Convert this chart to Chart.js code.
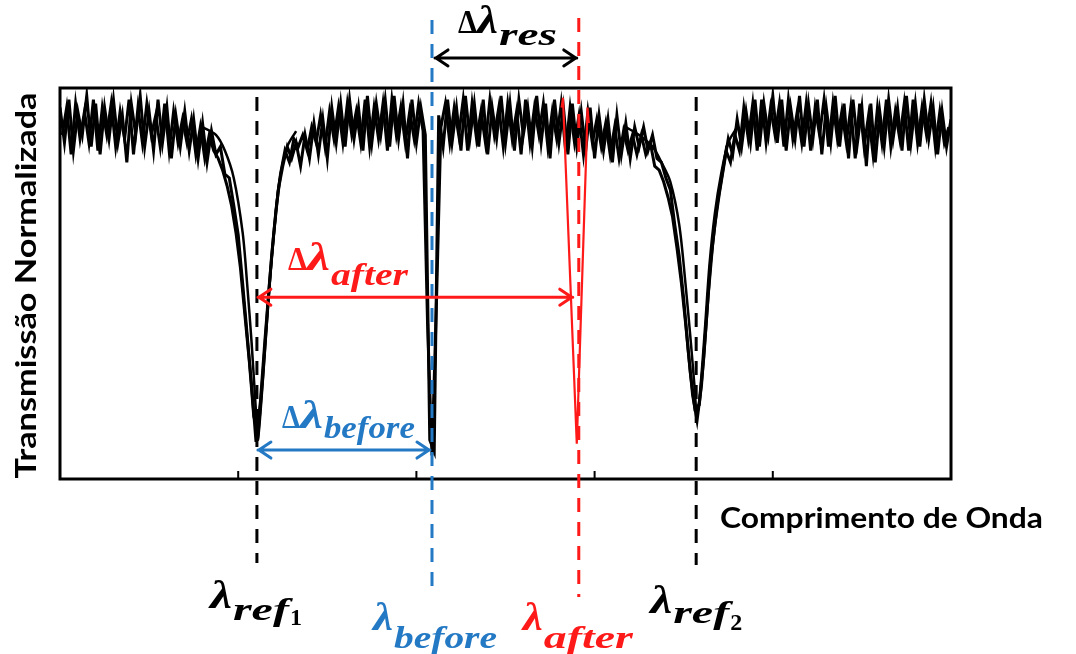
<!DOCTYPE html>
<html>
<head>
<meta charset="utf-8">
<script src="https://cdn.jsdelivr.net/npm/chart.js@4.4.0/dist/chart.umd.min.js"></script>
<style>
  html, body { margin: 0; padding: 0; background: #fff; }
  #grafico { display: block; }
</style>
</head>
<body>
<canvas id="grafico" width="1076" height="654"></canvas>
<script>
// comprimento de onda em unidades arbitrarias 0..100, uma amostra a cada 0.5
var passo = 0.5;

// transmissao medida (normalizada) - varredura 1 (x = 0, 0.5, 1 ...)
var medida = [
  0.95, 0.86, 0.97, 0.84, 0.94, 0.88, 0.98, 0.85, 0.96, 0.83, 0.95, 0.87, 0.97, 0.86,
  0.93, 0.81, 0.96, 0.88, 0.98, 0.85, 0.94, 0.84, 0.97, 0.86, 0.95, 0.82, 0.93, 0.85,
  0.94, 0.84, 0.92, 0.82, 0.91, 0.81,
  0.89, 0.83, 0.85, 0.78, 0.77, 0.70, 0.625, 0.50, 0.37, 0.24, 0.095, 0.20, 0.355, 0.50,
  0.63, 0.74, 0.80, 0.85, 0.82,
  0.86, 0.80, 0.88, 0.82, 0.91, 0.83, 0.92, 0.82, 0.95, 0.86, 0.96, 0.85, 0.97, 0.87,
  0.95, 0.84, 0.98, 0.86, 0.96, 0.88, 0.97, 0.85, 0.98, 0.87, 0.96, 0.82, 0.97, 0.86, 0.95,
  0.88, 0.10, 0.07,
  0.93, 0.85, 0.97, 0.86, 0.95, 0.84, 0.98, 0.87, 0.96, 0.85, 0.97, 0.83, 0.95, 0.87,
  0.98, 0.86, 0.96, 0.84, 0.97, 0.88, 0.95, 0.85, 0.98, 0.86, 0.96, 0.82, 0.97, 0.86,
  0.95, 0.83, 0.96, 0.85, 0.94, 0.84, 0.95, 0.82, 0.93, 0.84, 0.92, 0.81, 0.93, 0.83,
  0.91, 0.82, 0.90,
  0.85, 0.90, 0.84, 0.88, 0.82, 0.81, 0.77, 0.74, 0.65, 0.57, 0.46, 0.33, 0.215, 0.15,
  0.24, 0.39, 0.55, 0.65, 0.73, 0.80, 0.87, 0.83, 0.92,
  0.85, 0.94, 0.86, 0.97, 0.85, 0.96, 0.88, 0.98, 0.86, 0.97, 0.84, 0.95, 0.87, 0.98,
  0.85, 0.96, 0.87, 0.97, 0.83, 0.95, 0.86, 0.98, 0.85, 0.96, 0.82, 0.97, 0.86, 0.95,
  0.80, 0.96, 0.81, 0.94, 0.85, 0.97, 0.87, 0.95, 0.84, 0.98, 0.86, 0.96, 0.85, 0.97,
  0.87, 0.95, 0.83, 0.94, 0.85, 0.92
];

// varredura 2 (x = 0.25, 0.75, 1.25 ...)
var medida2 = [
  0.88, 0.95, 0.83, 0.96, 0.87, 0.94, 0.86, 0.97, 0.84, 0.95, 0.88, 0.96, 0.85, 0.94,
  0.87, 0.97, 0.83, 0.95, 0.86, 0.96, 0.88, 0.93, 0.85, 0.96, 0.84, 0.94, 0.86, 0.92,
  0.86, 0.92, 0.83, 0.90, 0.82, 0.88,
  0.84, 0.82, 0.79, 0.75, 0.70, 0.63, 0.54, 0.42, 0.30, 0.16, 0.12, 0.26, 0.42, 0.57,
  0.69, 0.78, 0.84, 0.81, 0.87,
  0.85, 0.88, 0.84, 0.90, 0.86, 0.93, 0.85, 0.94, 0.87, 0.95, 0.86, 0.96, 0.88, 0.94,
  0.86, 0.97, 0.85, 0.95, 0.87, 0.96, 0.84, 0.97, 0.88, 0.95, 0.86, 0.94, 0.87, 0.96, 0.89,
  0.40, 0.06, 0.45,
  0.90, 0.96, 0.86, 0.95, 0.88, 0.97, 0.84, 0.96, 0.87, 0.94, 0.86, 0.97, 0.88, 0.95,
  0.85, 0.96, 0.87, 0.94, 0.83, 0.97, 0.86, 0.95, 0.88, 0.96, 0.85, 0.94, 0.87, 0.96,
  0.84, 0.95, 0.86, 0.93, 0.83, 0.94, 0.86, 0.92, 0.85, 0.91, 0.83, 0.90, 0.82, 0.89,
  0.84, 0.88, 0.83,
  0.88, 0.83, 0.86, 0.80, 0.79, 0.76, 0.72, 0.67, 0.59, 0.50, 0.39, 0.27, 0.18, 0.19,
  0.31, 0.47, 0.60, 0.70, 0.77, 0.84, 0.81, 0.88, 0.84,
  0.95, 0.87, 0.96, 0.84, 0.97, 0.86, 0.95, 0.88, 0.96, 0.85, 0.97, 0.87, 0.94, 0.86,
  0.96, 0.84, 0.95, 0.88, 0.97, 0.85, 0.96, 0.87, 0.94, 0.86, 0.95, 0.82, 0.96, 0.85,
  0.93, 0.83, 0.95, 0.86, 0.97, 0.85, 0.94, 0.87, 0.96, 0.84, 0.97, 0.86, 0.95, 0.88,
  0.96, 0.85, 0.94, 0.86, 0.90
];

// curvas ajustadas (suaves) das ressonancias de referencia
var ajusteRef1 = [
  [16.0, 0.90], [17.5, 0.88], [18.5, 0.84], [19.5, 0.77], [20.5, 0.63], [21.0, 0.50],
  [21.5, 0.35], [22.0, 0.17], [22.2, 0.10], [22.6, 0.20], [23.1, 0.36], [23.6, 0.52],
  [24.1, 0.65], [24.6, 0.76], [25.5, 0.85], [26.5, 0.89]
];
var ajusteRef2 = [
  [63.5, 0.90], [65.0, 0.88], [66.5, 0.85], [67.5, 0.81], [68.5, 0.76], [69.5, 0.65],
  [70.2, 0.50], [70.8, 0.35], [71.2, 0.24], [71.5, 0.16], [71.9, 0.24], [72.4, 0.39],
  [72.9, 0.55], [73.5, 0.68], [74.2, 0.78], [75.0, 0.86], [76.0, 0.90]
];

// ressonancia depois da deteccao (vermelho)
var depois = [
  [56.3, 0.95], [56.45, 0.975], [58.0, 0.09], [59.1, 0.86], [59.2, 0.95], [59.35, 0.91]
];

// posicoes das ressonancias
var lambdaRef1 = 22.1;
var lambdaBefore = 41.75;
var lambdaAfter = 58.0;
var lambdaRef2 = 71.4;

var marcasX = [20, 40, 60, 80];

// altura das setas (em transmissao)
var setaRes = 1.077;
var setaAfter = 0.465;
var setaBefore = 0.074;

var preto = '#000000';
var azul = '#2479c4';
var vermelho = '#ff1a1a';

var pontosMedida = medida.map(function (v, i) { return { x: i * passo, y: v }; });
var pontosMedida2 = medida2.map(function (v, i) { return { x: passo / 2 + i * passo, y: v }; });
function pares(lista) {
  return lista.map(function (p) { return { x: p[0], y: p[1] }; });
}

// texto ajustado a uma largura
function texto(ctx, str, fonte, cor, x, y, largura) {
  ctx.save();
  ctx.font = fonte;
  ctx.fillStyle = cor;
  ctx.textBaseline = 'alphabetic';
  var m = ctx.measureText(str).width;
  ctx.translate(x, y);
  if (largura) ctx.scale(largura / m, 1);
  ctx.fillText(str, 0, 0);
  ctx.restore();
}

function tracejada(ctx, x, y1, y2, cor) {
  ctx.save();
  ctx.strokeStyle = cor;
  ctx.lineWidth = 3;
  ctx.setLineDash([14, 10]);
  ctx.beginPath();
  ctx.moveTo(x, y1);
  ctx.lineTo(x, y2);
  ctx.stroke();
  ctx.restore();
}

function seta(ctx, x1, x2, y, cor) {
  ctx.save();
  ctx.strokeStyle = cor;
  ctx.lineWidth = 3;
  ctx.lineCap = 'round';
  ctx.lineJoin = 'round';
  ctx.beginPath();
  ctx.moveTo(x1, y);
  ctx.lineTo(x2, y);
  ctx.moveTo(x1 + 13, y - 8);
  ctx.lineTo(x1 + 1, y);
  ctx.lineTo(x1 + 13, y + 8);
  ctx.moveTo(x2 - 13, y - 8);
  ctx.lineTo(x2 - 1, y);
  ctx.lineTo(x2 - 13, y + 8);
  ctx.stroke();
  ctx.restore();
}

var fDelta = 'bold 34px "Liberation Serif"';
var fLambda = 'bold italic 40px "Liberation Serif"';
var fSub = 'bold italic 32px "Liberation Serif"';
var fNum = 'bold 24px "Liberation Serif"';
var fEixo = 'bold 28px Lato';

var anotacoes = {
  id: 'anotacoes',
  afterDatasetsDraw: function (chart) {
    var ctx = chart.ctx;
    var a = chart.chartArea;
    var sx = chart.scales.x;
    var sy = chart.scales.y;

    // moldura
    ctx.save();
    ctx.strokeStyle = preto;
    ctx.lineWidth = 3;
    ctx.strokeRect(a.left, a.top, a.right - a.left, a.bottom - a.top);
    ctx.lineWidth = 2;
    ctx.beginPath();
    marcasX.forEach(function (v) {
      var px = sx.getPixelForValue(v);
      ctx.moveTo(px, a.bottom);
      ctx.lineTo(px, a.bottom - 8);
    });
    ctx.stroke();
    ctx.restore();

    var xr1 = sx.getPixelForValue(lambdaRef1);
    var xb = sx.getPixelForValue(lambdaBefore);
    var xa = sx.getPixelForValue(lambdaAfter);
    var xr2 = sx.getPixelForValue(lambdaRef2);

    tracejada(ctx, xr1, a.top + 9, a.bottom + 84, preto);
    tracejada(ctx, xr2, a.top + 9, a.bottom + 86, preto);
    tracejada(ctx, xb, a.top - 68, a.bottom + 108, azul);
    tracejada(ctx, xa + 2, a.top - 70, a.bottom + 118, vermelho);

    // setas
    var yRes = sy.getPixelForValue(setaRes);
    var yAft = sy.getPixelForValue(setaAfter);
    var yBef = sy.getPixelForValue(setaBefore);
    seta(ctx, xb + 3, xa, yRes, preto);
    seta(ctx, xr1 + 1, xa - 4, yAft, vermelho);
    seta(ctx, xr1 + 1, xb - 2, yBef, azul);

    // rotulos delta lambda
    texto(ctx, '\u0394', fDelta, preto, xb + 26, yRes - 25, 19);
    texto(ctx, '\u03bb', fLambda, preto, xb + 45, yRes - 25, 21);
    texto(ctx, 'res', fSub, preto, xb + 67, yRes - 13, 58);

    texto(ctx, '\u0394', fDelta, vermelho, xr1 + 31, yAft - 27, 19);
    texto(ctx, '\u03bb', fLambda, vermelho, xr1 + 50, yAft - 27, 23);
    texto(ctx, 'after', fSub, vermelho, xr1 + 74, yAft - 12, 77);

    texto(ctx, '\u0394', fDelta, azul, xr1 + 25, yBef - 22, 18);
    texto(ctx, '\u03bb', fLambda, azul, xr1 + 43, yBef - 22, 23);
    texto(ctx, 'before', fSub, azul, xr1 + 67, yBef - 12, 91);

    // rotulos lambda abaixo do eixo
    var b = a.bottom;
    texto(ctx, '\u03bb', fLambda, preto, xr1 - 47, b + 129, 22);
    texto(ctx, 'ref', fSub, preto, xr1 - 24, b + 141, 56);
    texto(ctx, '1', fNum, preto, xr1 + 33, b + 146, 12);

    texto(ctx, '\u03bb', fLambda, azul, xb - 59, b + 151, 20);
    texto(ctx, 'before', fSub, azul, xb - 38, b + 169, 103);

    texto(ctx, '\u03bb', fLambda, vermelho, xa - 54, b + 151, 20);
    texto(ctx, 'after', fSub, vermelho, xa - 33, b + 169, 89);

    texto(ctx, '\u03bb', fLambda, preto, xr2 - 46, b + 134, 22);
    texto(ctx, 'ref', fSub, preto, xr2 - 23, b + 144, 56);
    texto(ctx, '2', fNum, preto, xr2 + 34, b + 151, 12);

    // titulos dos eixos
    texto(ctx, 'Comprimento de Onda', fEixo, preto, a.right - 231, b + 49, 323);
    ctx.save();
    ctx.translate(36, (a.top + a.bottom) / 2 + 2);
    ctx.rotate(-Math.PI / 2);
    texto(ctx, 'Transmiss\u00e3o Normalizada', fEixo, preto, -193, 0, 386);
    ctx.restore();
  }
};

function serie(nome, pontos, cor, largura, tensao) {
  return {
    label: nome,
    data: pontos,
    borderColor: cor,
    borderWidth: largura,
    pointRadius: 0,
    tension: tensao
  };
}

new Chart(document.getElementById('grafico'), {
  type: 'line',
  data: {
    datasets: [
      serie('depois', pares(depois), vermelho, 2.2, 0),
      serie('ajuste ref 1', pares(ajusteRef1), preto, 2.5, 0.3),
      serie('ajuste ref 2', pares(ajusteRef2), preto, 2.5, 0.3),
      serie('medida', pontosMedida, preto, 3, 0),
      serie('medida 2', pontosMedida2, preto, 3, 0)
    ]
  },
  options: {
    responsive: false,
    animation: false,
    layout: { padding: { left: 60, top: 88, right: 125, bottom: 175 } },
    plugins: { legend: { display: false }, tooltip: { enabled: false } },
    scales: {
      x: { type: 'linear', min: 0, max: 100, display: false },
      y: { min: 0, max: 1, display: false }
    }
  },
  plugins: [anotacoes]
});
</script>
</body>
</html>
